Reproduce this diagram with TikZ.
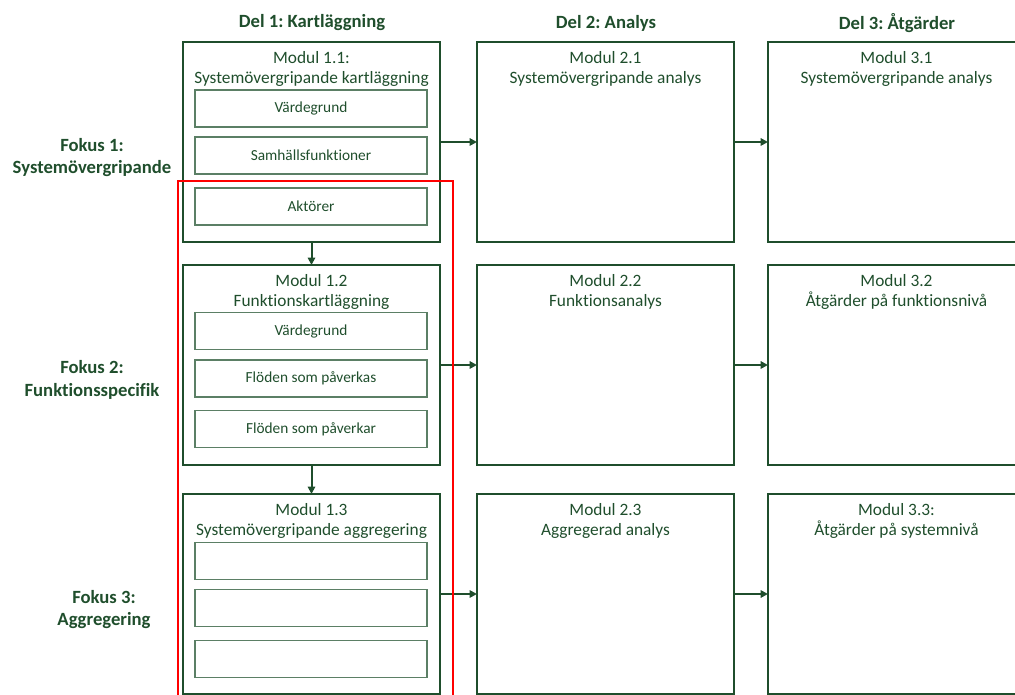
\documentclass[tikz,border=0pt]{standalone}
\usepackage{fontspec}
\setmainfont[Ligatures=NoCommon]{Carlito}
\usetikzlibrary{positioning, arrows.meta}
\frenchspacing

\definecolor{mgreen}{HTML}{1F4E2C}
\definecolor{lgreen}{HTML}{5B7F65}

\begin{document}
\begin{tikzpicture}[x=0.75pt, y=-0.75pt,
  modul/.style={draw=mgreen, line width=1.5pt, minimum width=192.75pt,
    minimum height=150pt, inner sep=0pt, outer sep=0pt},
  titel/.style={anchor=north, align=center, inner sep=0pt, text=mgreen,
    font=\fontsize{13}{15}\selectfont},
  delbox/.style={draw=lgreen, line width=1.1pt, minimum width=174pt,
    minimum height=27.75pt, inner sep=0pt, text=mgreen,
    font=\fontsize{11.5}{13}\selectfont},
  rubrik/.style={text=mgreen, font=\bfseries\fontsize{14}{16}\selectfont},
  fokus/.style={text=mgreen, align=center, font=\bfseries\fontsize{14}{17}\selectfont},
  pil/.style={draw=mgreen, line width=1.5pt, -{Triangle[length=5.5pt, width=5.5pt]}},
]
  \useasboundingbox (0,0) rectangle (1015,695);
  % rubriker
  \node[rubrik] (del1) at (312,23) {Del 1: Kartläggning};
  \node[rubrik] (del2) at (606,23) {Del 2: Analys};
  \node[rubrik] (del3) at (897,23) {Del 3: Åtgärder};
  \node[fokus] (fok1) at (92,157.5) {Fokus 1:\\Systemövergripande};
  \node[fokus] (fok2) at (92,380) {Fokus 2:\\Funktionsspecifik};
  \node[fokus] (fok3) at (104,609.5) {Fokus 3:\\Aggregering};
  % moduler
  \node[modul] (m11) at (311.5,142) {};
  \node[modul] (m12) at (311.5,365) {};
  \node[modul] (m13) at (311.5,594) {};
  \node[modul] (m21) at (605.5,142) {};
  \node[modul] (m22) at (605.5,365) {};
  \node[modul] (m23) at (605.5,594) {};
  \node[modul] (m31) at (896.5,142) {};
  \node[modul] (m32) at (896.5,365) {};
  \node[modul] (m33) at (896.5,594) {};
  \node[titel] (t11) at ([yshift=-7pt]m11.north) {Modul 1.1:\\Systemövergripande kartläggning};
  \node[titel] (t12) at ([yshift=-7pt]m12.north) {Modul 1.2\\Funktionskartläggning};
  \node[titel] (t13) at ([yshift=-7pt]m13.north) {Modul 1.3\\Systemövergripande aggregering};
  \node[titel] (t21) at ([yshift=-7pt]m21.north) {Modul 2.1\\Systemövergripande analys};
  \node[titel] (t22) at ([yshift=-7pt]m22.north) {Modul 2.2\\Funktionsanalys};
  \node[titel] (t23) at ([yshift=-7pt]m23.north) {Modul 2.3\\Aggregerad analys};
  \node[titel] (t31) at ([yshift=-7pt]m31.north) {Modul 3.1\\Systemövergripande analys};
  \node[titel] (t32) at ([yshift=-7pt]m32.north) {Modul 3.2\\Åtgärder på funktionsnivå};
  \node[titel] (t33) at ([yshift=-7pt]m33.north) {Modul 3.3:\\Åtgärder på systemnivå};
  % delmoment i del 1
  \node[delbox] (v1) at (311,108.5) {Värdegrund};
  \node[delbox] (s1) at (311,155.5) {Samhällsfunktioner};
  \node[delbox] (a1) at (311,206.5) {Aktörer};
  \node[delbox] (v2) at (311,331) {Värdegrund};
  \node[delbox] (f2) at (311,378.5) {Flöden som påverkas};
  \node[delbox] (g2) at (311,429) {Flöden som påverkar};
  \node[delbox] (x3) at (311,561) {};
  \node[delbox] (y3) at (311,608) {};
  \node[delbox] (z3) at (311,659) {};
  % pilar
  \foreach \r in {1,2,3} {
    \draw[pil] (m1\r.east) -- (m2\r.west);
    \draw[pil] (m2\r.east) -- (m3\r.west);
  }
  \draw[pil] (m11.south) -- (m12.north);
  \draw[pil] (m12.south) -- (m13.north);
  % markering
  \draw[red, line width=1.1pt] (178,697) -- (178,181) -- (453,181) -- (453,697);
\end{tikzpicture}
\end{document}
